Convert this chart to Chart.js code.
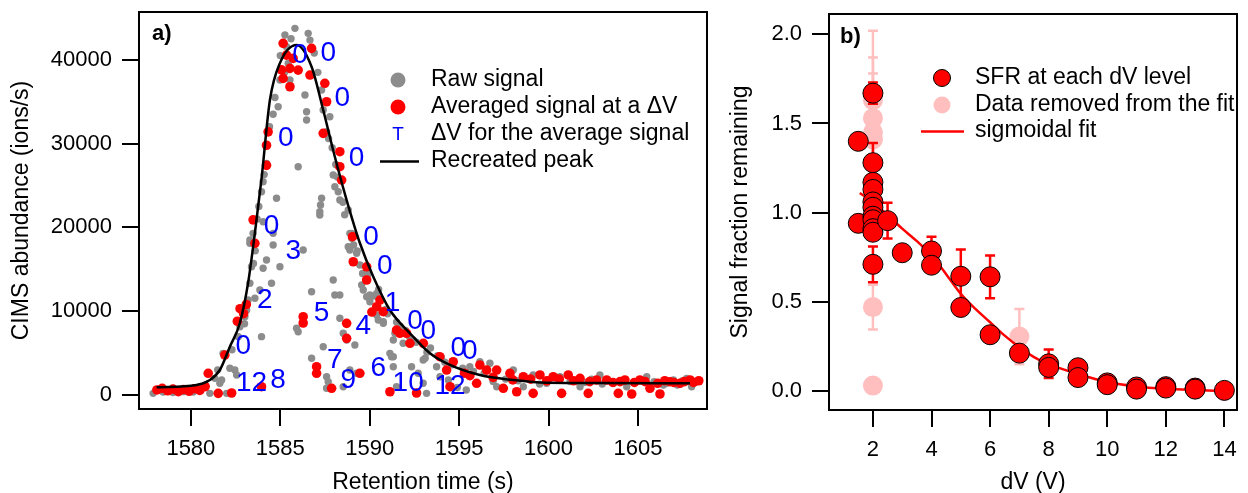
<!DOCTYPE html>
<html>
<head>
<meta charset="utf-8">
<script src="https://cdn.jsdelivr.net/npm/chart.js@4.4.1/dist/chart.umd.min.js"></script>
<style>
  html, body { margin: 0; padding: 0; background: #fff; }
  #wrap { position: relative; width: 1248px; height: 493px; }
  #chartA { position: absolute; left: 0; top: 0; }
  #chartB { position: absolute; left: 720px; top: 0; }
</style>
</head>
<body>
<div id="wrap">
  <canvas id="chartA" width="720" height="493"></canvas>
  <canvas id="chartB" width="528" height="493"></canvas>
</div>
<script>
// ---- panel a: raw signal (grey dots)
const rawTime = [
  1577.89, 1578.2, 1578.45, 1578.7, 1579.0, 1579.3, 1579.57, 1579.8, 1580.13, 1580.3, 1580.5, 1580.8,
  1581.06, 1581.34, 1581.62, 1581.72, 1581.8, 1582.0, 1582.18, 1582.46, 1582.56, 1582.65, 1582.74,
  1583.02, 1583.12, 1583.2, 1583.3, 1583.39, 1583.3, 1583.3, 1583.48, 1583.58, 1583.7, 1583.8, 1583.86,
  1583.95, 1583.95, 1584.04, 1584.04, 1584.04, 1584.1, 1584.23, 1584.23, 1584.4, 1584.51, 1584.6, 1584.6,
  1584.6, 1584.7, 1584.79, 1584.88, 1584.98, 1584.98, 1585.26, 1585.26, 1585.35, 1585.44, 1585.54,
  1585.82, 1585.91, 1586.0, 1586.0, 1586.28, 1586.38, 1586.47, 1586.47, 1586.56, 1586.66, 1586.75,
  1586.75, 1587.03, 1587.21, 1587.21, 1587.25, 1587.31, 1587.31, 1587.4, 1587.4, 1587.59, 1587.59,
  1587.59, 1587.68, 1587.77, 1587.9, 1587.96, 1587.96, 1588.05, 1588.05, 1588.1, 1588.24, 1588.33,
  1588.33, 1588.33, 1588.5, 1588.52, 1588.52, 1588.71, 1588.8, 1588.8, 1588.89, 1588.89, 1588.89,
  1588.99, 1588.99, 1589.1, 1589.17, 1589.27, 1589.27, 1589.45, 1589.55, 1589.6, 1589.64, 1589.83,
  1590.01, 1590.01, 1590.2, 1590.39, 1590.39, 1590.48, 1590.76, 1590.76, 1590.9, 1591.13, 1591.22,
  1591.32, 1591.32, 1591.32, 1591.41, 1591.5, 1591.7, 1591.87, 1592.2, 1592.34, 1592.43, 1592.71,
  1592.99, 1592.99, 1593.1, 1593.18, 1593.4, 1593.74, 1593.93, 1594.0, 1594.4, 1594.6, 1594.9, 1595.2,
  1595.4, 1595.6, 1595.8, 1596.16, 1596.4, 1596.72, 1596.9, 1597.1, 1597.6, 1598.03, 1598.3, 1598.59,
  1599.14, 1599.5, 1599.89, 1600.0, 1600.64, 1601.2, 1601.76, 1602.0, 1602.4, 1602.87, 1603.0, 1603.62,
  1604.0, 1604.37, 1604.8, 1605.49, 1605.9, 1606.42, 1606.6, 1606.98, 1607.2, 1607.5, 1607.72, 1608.0,
  1608.2, 1585.0, 1585.6, 1586.9, 1587.1, 1587.7, 1588.2, 1588.6, 1589.3, 1589.9, 1590.5, 1591.0,
  1591.5, 1592.0, 1592.6, 1593.2, 1593.8, 1594.2, 1583.5, 1583.6, 1583.0, 1582.3, 1581.5
];
const rawSignal = [
  200, 700, 360, 500, 300, 600, 400, 500, 350, 600, 990, 1200,
  200, 1990, 1400, 1790, 4970, 200, 3190, 2980, 2390, 6960, 8150,
  9340, 10140, 11330, 13330, 15310, 18100, 18490, 19290, 11540, 21000, 22500, 12530,
  6960, 24250, 15120, 20670, 25450, 26300, 16110, 27640, 32000, 13330, 17900, 19290,
  33500, 35500, 23470, 34390, 15310, 37580, 42950, 38570, 41550, 39570, 37580,
  43750, 7960, 7550, 27240, 17300, 35790, 33800, 32810, 43150, 42350, 12320,
  4380, 3190, 21870, 21470, 22670, 36390, 23470, 34000, 5760, 31410, 2180,
  800, 1590, 33200, 29500, 13720, 26250, 11930, 24850, 27500, 24250, 23260,
  11930, 9150, 23000, 7360, 990, 6560, 22070, 17690, 19290, 17300, 2980,
  19290, 18690, 17900, 5970, 16900, 2590, 15510, 13120, 14500, 12530, 11730,
  11930, 11130, 11800, 12130, 9540, 8950, 8750, 8550, 10200, 4970, 4570,
  3380, 6560, 4570, 7360, 990, 8200, 6170, 7000, 3380, 6560, 2590,
  4180, 1400, 4400, 200, 5600, 3380, 2180, 4500, 1800, 3600, 900, 3200,
  600, 3380, 2800, 3970, 2600, 3780, 1600, 990, 1900, 2980, 1700, 990,
  2390, 1300, 1400, 1800, 2180, 1600, 990, 1500, 1900, 2390, 1300, 1400,
  1700, 990, 1500, 2180, 1600, 1190, 1400, 1790, 1200, 1700, 1990, 990,
  1500, 40500, 42500, 40800, 38500, 30600, 26000, 21500, 17200, 14400, 12600, 9700,
  8700, 7700, 6300, 5100, 4700, 3900, 15700, 17200, 8500, 5400, 3000
];

// ---- panel a: averaged signal at a dV (red dots)
const avgTime = [
  1578.1, 1578.4, 1578.7, 1579.0, 1579.3, 1579.6, 1579.9, 1580.2, 1580.5, 1580.8, 1580.97, 1581.53,
  1581.9, 1582.28, 1582.6, 1582.75, 1582.95, 1583.1, 1583.48, 1583.58, 1583.95, 1584.23, 1584.23,
  1584.32, 1585.07, 1585.16, 1585.35, 1585.16, 1585.54, 1585.54, 1585.72, 1586.0, 1586.28, 1586.28,
  1586.66, 1586.75, 1587.03, 1587.03, 1587.4, 1587.49, 1587.59, 1587.87, 1588.33, 1588.33, 1588.43,
  1588.71, 1588.71, 1589.04, 1589.08, 1589.45, 1589.83, 1589.83, 1590.12, 1590.39, 1590.57, 1590.76,
  1591.13, 1591.5, 1591.69, 1592.06, 1592.25, 1592.62, 1593.0, 1593.92, 1594.3, 1594.49, 1594.67,
  1595.3, 1595.6, 1595.98, 1596.16, 1596.54, 1596.9, 1597.1, 1597.47, 1597.84, 1598.0, 1598.22,
  1598.59, 1599.0, 1599.14, 1599.52, 1599.9, 1600.26, 1600.6, 1600.73, 1601.1, 1601.4, 1601.76,
  1602.22, 1602.3, 1602.69, 1603.25, 1603.6, 1603.9, 1604.0, 1604.27, 1604.65, 1604.8, 1605.11,
  1605.4, 1605.67, 1606.1, 1606.23, 1606.5, 1606.79, 1607.0, 1607.35, 1607.6, 1607.91, 1608.1,
  1608.4
];
const avgSignal = [
  600, 800, 500, 700, 400, 650, 450, 750, 550, 1000, 2590, 200,
  4770, 240, 8800, 10300, 9700, 10800, 20900, 18100, 990, 27400, 29800,
  31400, 38800, 41960, 40560, 37780, 38970, 36780, 40170, 38770, 9340, 8590,
  38180, 41360, 3380, 2590, 31220, 37190, 34990, 800, 29030, 27240, 25650,
  8550, 6760, 18890, 15900, 2590, 15300, 13720, 9900, 10530, 11330, 9940,
  390, 7750, 7360, 7360, 6170, 240, 6170, 4570, 2980, 990, 3970,
  2600, 2300, 1400, 3580, 2980, 2100, 2980, 800, 2590, 1800, 390,
  2180, 1900, 200, 2390, 1700, 2180, 1900, 200, 2390, 1700, 1990,
  200, 1600, 1790, 1790, 1500, 200, 1600, 1790, 120, 1500, 1790,
  1600, 800, 1400, 120, 1700, 1590, 1500, 1400, 1600, 1790, 1500,
  1700
];

// ---- panel a: recreated peak (black line)
const peakTime = [
  1578.08, 1580.32, 1581.06, 1581.62, 1582.18, 1582.74, 1583.2, 1583.58, 1583.95, 1584.42, 1584.98,
  1585.91, 1586.75, 1587.4, 1588.05, 1588.71, 1589.45, 1590.2, 1591.13, 1592.25, 1593.37, 1594.3,
  1596.16, 1598.03, 1599.89, 1602.87, 1607.91
];
const peakSignal = [
  919, 1193, 1790, 2983, 5762, 8590, 13362, 19327, 25800, 35194, 39600,
  41755, 39166, 34000, 28430, 23264, 18134, 14113, 10140, 7361, 4975, 3782,
  2386, 1790, 1467, 1432, 1396
];

// ---- panel a: dV written next to the averaged signal
const dvLabelTime = [
  1586.10, 1587.68, 1588.46, 1585.31, 1589.27, 1584.51, 1590.07, 1585.72, 1590.85, 1584.14, 1587.31,
  1591.27, 1589.64, 1592.53, 1593.27, 1594.95, 1595.60, 1582.93, 1588.05, 1590.48, 1583.39, 1584.88,
  1588.80, 1592.15, 1594.49
];
const dvLabelSignal = [
  40560, 40760, 35400, 30620, 28240, 20130, 18790, 17100, 15310, 11330, 9750,
  10940, 8150, 8740, 7550, 5570, 5170, 5760, 4180, 3190, 1400, 1790,
  1790, 1400, 990
];
const dvLabelText = [
  "0", "0", "0", "0", "0", "0", "0", "3", "0", "2", "5",
  "1", "4", "0", "0", "0", "0", "0", "7", "6", "12", "8",
  "9", "10", "12"
];
const timeTicks = [1580, 1585, 1590, 1595, 1600, 1605];
const abundanceTicks = [0, 10000, 20000, 30000, 40000];

// ---- panel b: signal fraction remaining
const sfrDv = [1.5, 1.5, 2, 2, 2, 2, 2, 2, 2, 2, 2, 2, 2, 2.5, 3, 4, 4, 5, 5, 6, 6, 7, 8, 8, 9, 9, 10, 10, 11, 11, 12, 12, 13, 13, 14];
const sfrValue = [1.40, 0.94, 1.67, 1.28, 1.17, 1.13, 1.06, 1.03, 0.98, 0.96, 0.91, 0.89, 0.71, 0.955, 0.775, 0.785, 0.705, 0.643, 0.468, 0.64, 0.315, 0.212, 0.152, 0.132, 0.13, 0.075, 0.045, 0.035, 0.022, 0.01, 0.024, 0.016, 0.016, 0.01, 0.003];
const sfrErr = [0, 0, 0.06, 0.11, 0, 0, 0, 0, 0, 0, 0, 0, 0.1, 0.1, 0, 0.08, 0, 0.15, 0, 0.12, 0, 0, 0.08, 0, 0, 0, 0, 0, 0, 0, 0, 0, 0, 0, 0];
const removedDv = [2, 2, 2, 2, 2, 2, 7];
const removedValue = [1.63, 1.53, 1.45, 1.41, 0.47, 0.03, 0.305];
const removedErr = [0.39, 0.34, 0.33, 0, 0.125, 0, 0.155];
const fitDv = [1.55, 2, 2.5, 3, 3.5, 4, 4.5, 5, 5.5, 6, 6.5, 7, 7.5, 8, 9, 10, 11, 12, 13, 14];
const fitValue = [1.11, 1.06, 0.985, 0.91, 0.84, 0.76, 0.655, 0.545, 0.46, 0.385, 0.31, 0.245, 0.19, 0.15, 0.095, 0.05, 0.025, 0.012, 0.005, 0.0];
const dvTicks = [2, 4, 6, 8, 10, 12, 14];
const sfrTicks = [0, 0.5, 1.0, 1.5, 2.0];

const FONT = "'Liberation Sans', Arial, sans-serif";
Chart.defaults.font.family = FONT;
Chart.defaults.color = "#000";

const pts = (xs, ys) => xs.map((x, i) => ({ x, y: ys[i] }));

// frame round the plot area
const framePlugin = {
  id: "frame",
  afterDatasetsDraw(chart) {
    const { ctx, chartArea: a } = chart;
    ctx.save();
    ctx.strokeStyle = "#000";
    ctx.lineWidth = 2;
    ctx.strokeRect(a.left, a.top, a.right - a.left, a.bottom - a.top);
    ctx.restore();
  }
};

// error bars, drawn just before the dataset they belong to
const errorBarPlugin = {
  id: "errorBars",
  beforeDatasetDraw(chart, args) {
    const ds = chart.data.datasets[args.index];
    if (!ds.errors) return;
    const { ctx, scales: { x, y } } = chart;
    ctx.save();
    ctx.strokeStyle = ds.errorColor;
    ctx.lineWidth = 2.5;
    ds.data.forEach((p, i) => {
      const e = ds.errors[i];
      if (!e) return;
      const px = x.getPixelForValue(p.x);
      const top = y.getPixelForValue(p.y + e);
      const bot = y.getPixelForValue(p.y - e);
      ctx.beginPath();
      ctx.moveTo(px, top); ctx.lineTo(px, bot);
      ctx.moveTo(px - 5, top); ctx.lineTo(px + 5, top);
      ctx.moveTo(px - 5, bot); ctx.lineTo(px + 5, bot);
      ctx.stroke();
    });
    ctx.restore();
  }
};

function axis(min, max, ticks, size, titleText, titlePad, fmt) {
  return {
    type: "linear",
    min, max,
    afterBuildTicks: s => { s.ticks = ticks.map(v => ({ value: v })); },
    afterFit: s => {
      if (s.isHorizontal()) s.height = size; else s.width = size;
      s.paddingLeft = s.paddingRight = s.paddingTop = s.paddingBottom = 0;
    },
    grid: { drawOnChartArea: false, drawTicks: true, tickLength: 17, color: "#000", lineWidth: 2 },
    border: { display: false },
    ticks: {
      font: { size: 22 }, color: "#000", padding: 10, maxRotation: 0, autoSkip: false,
      callback: fmt
    },
    title: {
      display: true, text: titleText, color: "#000",
      font: { size: 23, lineHeight: 0.9 }, padding: titlePad
    }
  };
}

// ---- panel a
new Chart(document.getElementById("chartA"), {
  type: "scatter",
  data: {
    datasets: [
      {
        type: "line", label: "Recreated peak", data: pts(peakTime, peakSignal), order: 0,
        borderColor: "#000", borderWidth: 2.5, pointRadius: 0, cubicInterpolationMode: "monotone", fill: false
      },
      {
        label: "Averaged signal at a ΔV", data: pts(avgTime, avgSignal), order: 1,
        backgroundColor: "#ff0000", borderWidth: 0, pointRadius: 4.8
      },
      {
        label: "Raw signal", data: pts(rawTime, rawSignal), order: 2,
        backgroundColor: "#8c8c8c", borderWidth: 0, pointRadius: 3.7
      }
    ]
  },
  options: {
    responsive: false, animation: false,
    layout: { padding: { top: 12, right: 13, left: 0, bottom: 0 } },
    plugins: { legend: { display: false }, tooltip: { enabled: false } },
    scales: {
      x: Object.assign(axis(1577.1, 1608.86, timeTicks, 84, "Retention time (s)", { top: 0, bottom: 0 }, v => String(v)), { position: "bottom" }),
      y: Object.assign(axis(-1670, 45700, abundanceTicks, 139, "CIMS abundance (ions/s)", { top: 11, bottom: 0 }, v => String(v)), { position: "left" })
    }
  },
  plugins: [framePlugin, {
    id: "annotA",
    afterDraw(chart) {
      const { ctx, scales: { x, y } } = chart;
      ctx.save();
      // dV values in blue
      ctx.fillStyle = "#0000ff";
      ctx.font = "28px " + FONT;
      ctx.textAlign = "center";
      ctx.textBaseline = "middle";
      dvLabelText.forEach((t, i) => {
        ctx.fillText(t, x.getPixelForValue(dvLabelTime[i]), y.getPixelForValue(dvLabelSignal[i]));
      });
      // panel letter
      ctx.fillStyle = "#000";
      ctx.textAlign = "left";
      ctx.textBaseline = "alphabetic";
      ctx.font = "bold 22px " + FONT;
      ctx.fillText("a)", 152, 40);
      // legend
      ctx.font = "23px " + FONT;
      ctx.textBaseline = "middle";
      const tx = 431;
      ctx.fillStyle = "#8c8c8c";
      ctx.beginPath(); ctx.arc(398, 80, 7.5, 0, Math.PI * 2); ctx.fill();
      ctx.fillStyle = "#ff0000";
      ctx.beginPath(); ctx.arc(398, 107, 7.5, 0, Math.PI * 2); ctx.fill();
      ctx.fillStyle = "#0000ff";
      ctx.textAlign = "center";
      ctx.font = "19px " + FONT;
      ctx.fillText("T", 398, 135);
      ctx.strokeStyle = "#000"; ctx.lineWidth = 2.5;
      ctx.beginPath(); ctx.moveTo(380, 161.5); ctx.lineTo(419, 161.5); ctx.stroke();
      ctx.fillStyle = "#000";
      ctx.textAlign = "left";
      ctx.font = "23px " + FONT;
      ctx.fillText("Raw signal", tx, 80);
      ctx.fillText("Averaged signal at a ΔV", tx, 107);
      ctx.fillText("ΔV for the average signal", tx, 134);
      ctx.fillText("Recreated peak", tx, 161);
      ctx.restore();
    }
  }]
});

// ---- panel b
new Chart(document.getElementById("chartB"), {
  type: "scatter",
  data: {
    datasets: [
      {
        label: "SFR at each dV level", data: pts(sfrDv, sfrValue), order: 0,
        errors: sfrErr, errorColor: "#ff0000",
        backgroundColor: "#ff0000", borderColor: "#000", borderWidth: 1, pointRadius: 10
      },
      {
        type: "line", label: "sigmoidal fit", data: pts(fitDv, fitValue), order: 1,
        borderColor: "#ff0000", borderWidth: 2.5, pointRadius: 0, cubicInterpolationMode: "monotone", fill: false
      },
      {
        label: "Data removed from the fit", data: pts(removedDv, removedValue), order: 2,
        errors: removedErr, errorColor: "#ffbfbf",
        backgroundColor: "#ffbfbf", borderWidth: 0, pointRadius: 10
      }
    ]
  },
  options: {
    responsive: false, animation: false,
    layout: { padding: { top: 14, right: 1, left: 0, bottom: 0 } },
    plugins: { legend: { display: false }, tooltip: { enabled: false } },
    scales: {
      x: Object.assign(axis(0.5, 14.43, dvTicks, 83, "dV (V)", { top: 0, bottom: 0 }, v => String(v)), { position: "bottom" }),
      y: Object.assign(axis(-0.107, 2.114, sfrTicks, 109, "Signal fraction remaining", { top: 10, bottom: 0 }, v => v.toFixed(1)), { position: "left" })
    }
  },
  plugins: [framePlugin, errorBarPlugin, {
    id: "annotB",
    afterDraw(chart) {
      const { ctx } = chart;
      ctx.save();
      ctx.fillStyle = "#000";
      ctx.textAlign = "left";
      ctx.textBaseline = "alphabetic";
      ctx.font = "bold 22px " + FONT;
      ctx.fillText("b)", 120, 43);
      // legend
      ctx.fillStyle = "#ff0000"; ctx.strokeStyle = "#000"; ctx.lineWidth = 1;
      ctx.beginPath(); ctx.arc(222, 78, 8.5, 0, Math.PI * 2); ctx.fill(); ctx.stroke();
      ctx.fillStyle = "#ffbfbf";
      ctx.beginPath(); ctx.arc(222, 105, 8.5, 0, Math.PI * 2); ctx.fill();
      ctx.strokeStyle = "#ff0000"; ctx.lineWidth = 2.5;
      ctx.beginPath(); ctx.moveTo(201, 131.5); ctx.lineTo(244, 131.5); ctx.stroke();
      ctx.fillStyle = "#000";
      ctx.font = "23px " + FONT;
      ctx.textBaseline = "middle";
      ctx.fillText("SFR at each dV level", 255, 78);
      ctx.fillText("Data removed from the fit", 255, 105);
      ctx.fillText("sigmoidal fit", 255, 131);
      ctx.restore();
    }
  }]
});
</script>
</body>
</html>
